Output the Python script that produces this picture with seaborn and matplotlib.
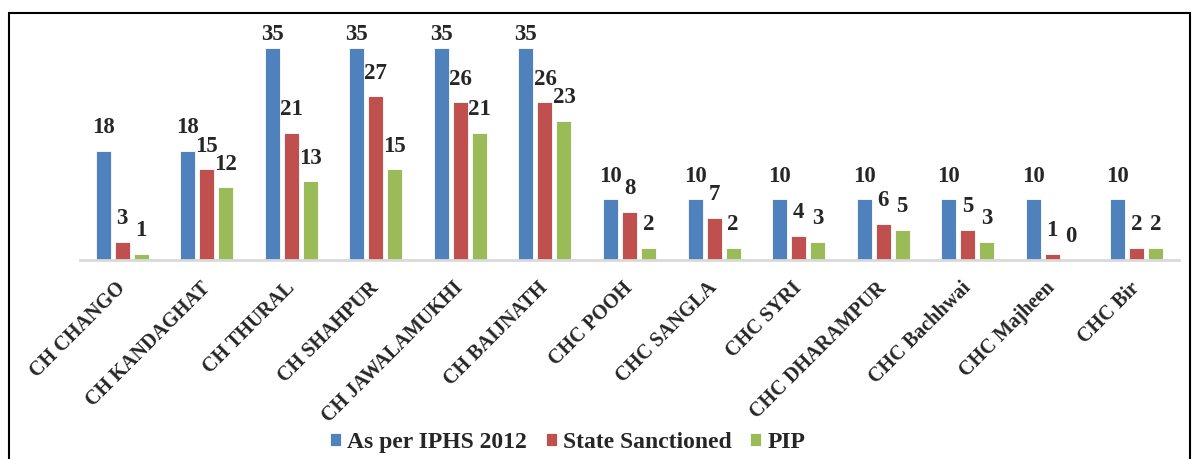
import pandas as pd
import matplotlib.pyplot as plt
import matplotlib.transforms as mtransforms
import seaborn as sns
from matplotlib.patches import Rectangle

# Data
facilities = [
    "CH CHANGO", "CH KANDAGHAT", "CH THURAL", "CH SHAHPUR", "CH JAWALAMUKHI",
    "CH BAIJNATH", "CHC POOH", "CHC SANGLA", "CHC SYRI", "CHC DHARAMPUR",
    "CHC Bachhwai", "CHC Majheen", "CHC Bir",
]
iphs_2012 = [18, 18, 35, 35, 35, 35, 10, 10, 10, 10, 10, 10, 10]
state_sanctioned = [3, 15, 21, 27, 26, 26, 8, 7, 4, 6, 5, 1, 2]
pip = [1, 12, 13, 15, 21, 23, 2, 2, 3, 5, 3, 0, 2]
series_names = ["As per IPHS 2012", "State Sanctioned", "PIP"]
colors = ["#4F81BD", "#C0504D", "#9BBB59"]

df = pd.DataFrame({
    "facility": facilities * 3,
    "series": [s for s in series_names for _ in facilities],
    "value": iphs_2012 + state_sanctioned + pip,
})

sns.set_style("white")
plt.rcParams["font.family"] = ["Liberation Serif", "DejaVu Serif"]
plt.rcParams["font.weight"] = "bold"

fig = plt.figure(figsize=(11.95, 4.59), dpi=100)
ax = fig.add_axes([80 / 1195, 0.4336, 1099 / 1195, 0.528])

sns.barplot(data=df, x="facility", y="value", hue="series",
            palette=colors, saturation=1, width=0.675, gap=0.21,
            edgecolor="white", linewidth=0.6, ax=ax)

ax.set_ylim(0, 40)
ax.set_xlim(-0.5, len(facilities) - 0.5)
ax.set_xlabel("")
ax.set_ylabel("")
ax.set_yticks([])
for side in ["top", "right", "left"]:
    ax.spines[side].set_visible(False)
ax.spines["bottom"].set_color("#d9d9d9")
ax.spines["bottom"].set_linewidth(2)

ax.tick_params(axis="x", length=0, pad=13)
shift = mtransforms.ScaledTranslation(-7 / 100, 0, fig.dpi_scale_trans)
for lab in ax.get_xticklabels():
    lab.set_rotation(45)
    lab.set_ha("right")
    lab.set_va("top")
    lab.set_rotation_mode("anchor")
    lab.set_fontsize(14.5)
    lab.set_fontweight("bold")
    lab.set_transform(lab.get_transform() + shift)

# value labels above each bar
for container in ax.containers:
    for bar in container:
        h = bar.get_height()
        off = 2 if h >= 35 else 9
        ax.annotate(f"{int(round(h))}", (bar.get_x() + bar.get_width() / 2, h),
                    xytext=(0, off), textcoords="offset points",
                    ha="center", va="bottom", fontsize=16.5, fontweight="bold",
                    annotation_clip=False)

handles, labels = ax.get_legend_handles_labels()
ax.legend(handles, labels, loc="center", bbox_to_anchor=(0.475, 0.037),
          bbox_transform=fig.transFigure, ncol=3, frameon=False,
          handlelength=0.47, handleheight=0.47, handletextpad=0.25,
          columnspacing=0.8, borderpad=0, prop={"size": 17, "weight": "bold"})

# outer chart border
fig.patches.append(Rectangle((9 / 1195, -0.05), 1181 / 1195, 1.05 - 13 / 459,
                             transform=fig.transFigure, fill=False,
                             edgecolor="black", linewidth=1.5))

fig.savefig("out.png", dpi=100)
